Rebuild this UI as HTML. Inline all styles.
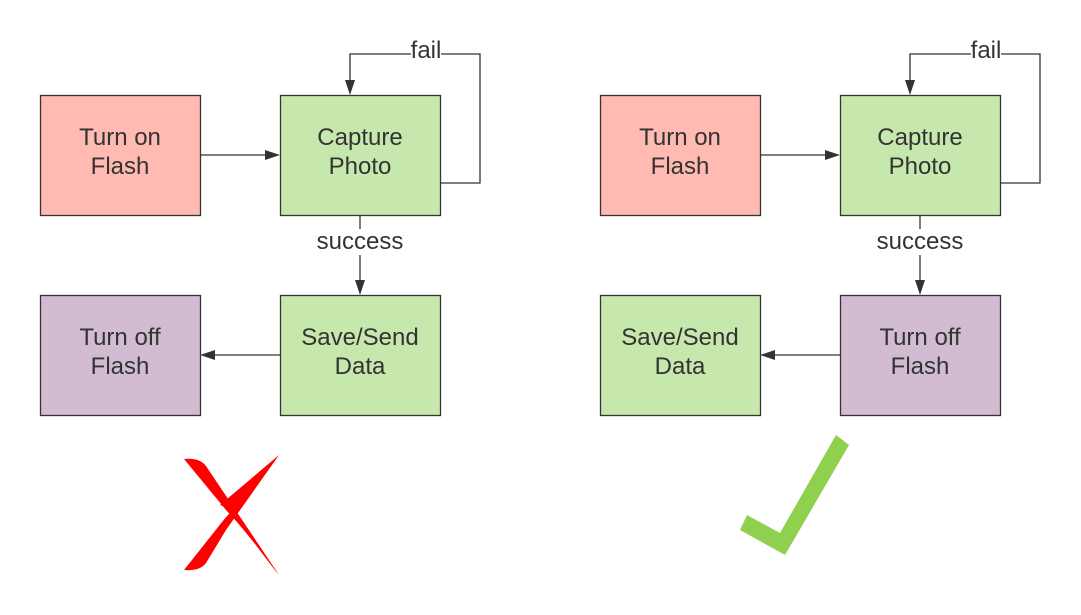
<!DOCTYPE html>
<html><head><meta charset="utf-8"><style>
html,body{margin:0;padding:0;background:#fff;}
svg{display:block;}
text{font-family:"Liberation Sans",sans-serif;font-size:24px;fill:#333;text-anchor:middle;}
</style></head><body>
<svg width="1081" height="615" viewBox="0 0 1081 615" xmlns="http://www.w3.org/2000/svg">
<defs>
<g id="half">
  <line x1="200" y1="155" x2="266" y2="155" stroke="#333" stroke-width="1.3"/>
  <polygon points="280,155 265,150 265,160" fill="#333"/>
  <polyline points="440,183 480,183 480,54 350,54 350,81" fill="none" stroke="#333" stroke-width="1.3"/>
  <polygon points="350,95 345,80 355,80" fill="#333"/>
  <rect x="411" y="40" width="30" height="24" fill="#fff"/>
  <text x="426" y="58">fail</text>
  <line x1="360" y1="215" x2="360" y2="229" stroke="#333" stroke-width="1.3"/>
  <line x1="360" y1="255" x2="360" y2="281" stroke="#333" stroke-width="1.3"/>
  <polygon points="360,295 355,280 365,280" fill="#333"/>
  <text x="360" y="249">success</text>
  <line x1="280" y1="355" x2="214" y2="355" stroke="#333" stroke-width="1.3"/>
  <polygon points="200,355 215,350 215,360" fill="#333"/>
</g>
</defs>
<use href="#half"/>
<use href="#half" x="560"/>
<rect x="40.5" y="95.5" width="160" height="120" fill="#ffbab1" stroke="#333" stroke-width="1.3"/>
<text x="120" y="145">Turn on</text><text x="120" y="174">Flash</text>
<rect x="280.5" y="95.5" width="160" height="120" fill="#c7e8ac" stroke="#333" stroke-width="1.3"/>
<text x="360" y="145">Capture</text><text x="360" y="174">Photo</text>
<rect x="280.5" y="295.5" width="160" height="120" fill="#c7e8ac" stroke="#333" stroke-width="1.3"/>
<text x="360" y="345">Save/Send</text><text x="360" y="374">Data</text>
<rect x="40.5" y="295.5" width="160" height="120" fill="#d2bcd2" stroke="#333" stroke-width="1.3"/>
<text x="120" y="345">Turn off</text><text x="120" y="374">Flash</text>
<rect x="600.5" y="95.5" width="160" height="120" fill="#ffbab1" stroke="#333" stroke-width="1.3"/>
<text x="680" y="145">Turn on</text><text x="680" y="174">Flash</text>
<rect x="840.5" y="95.5" width="160" height="120" fill="#c7e8ac" stroke="#333" stroke-width="1.3"/>
<text x="920" y="145">Capture</text><text x="920" y="174">Photo</text>
<rect x="840.5" y="295.5" width="160" height="120" fill="#d2bcd2" stroke="#333" stroke-width="1.3"/>
<text x="920" y="345">Turn off</text><text x="920" y="374">Flash</text>
<rect x="600.5" y="295.5" width="160" height="120" fill="#c7e8ac" stroke="#333" stroke-width="1.3"/>
<text x="680" y="345">Save/Send</text><text x="680" y="374">Data</text>
<path d="M184,459 C196,458 202,461 206,466 L279,575 C270,565 250,535 226,510 Z" fill="#ff0000"/>
<path d="M279,455 L238,512 L220,505 Z" fill="#ff0000"/>
<path d="M279,455 L226,530 L206,563 C202,568 196,571 184,570 L222,522 Z" fill="#ff0000"/>
<polygon points="747,515 740,530 785,555 849,445 836,435 780,533" fill="#8fd14f"/>
</svg>
</body></html>
